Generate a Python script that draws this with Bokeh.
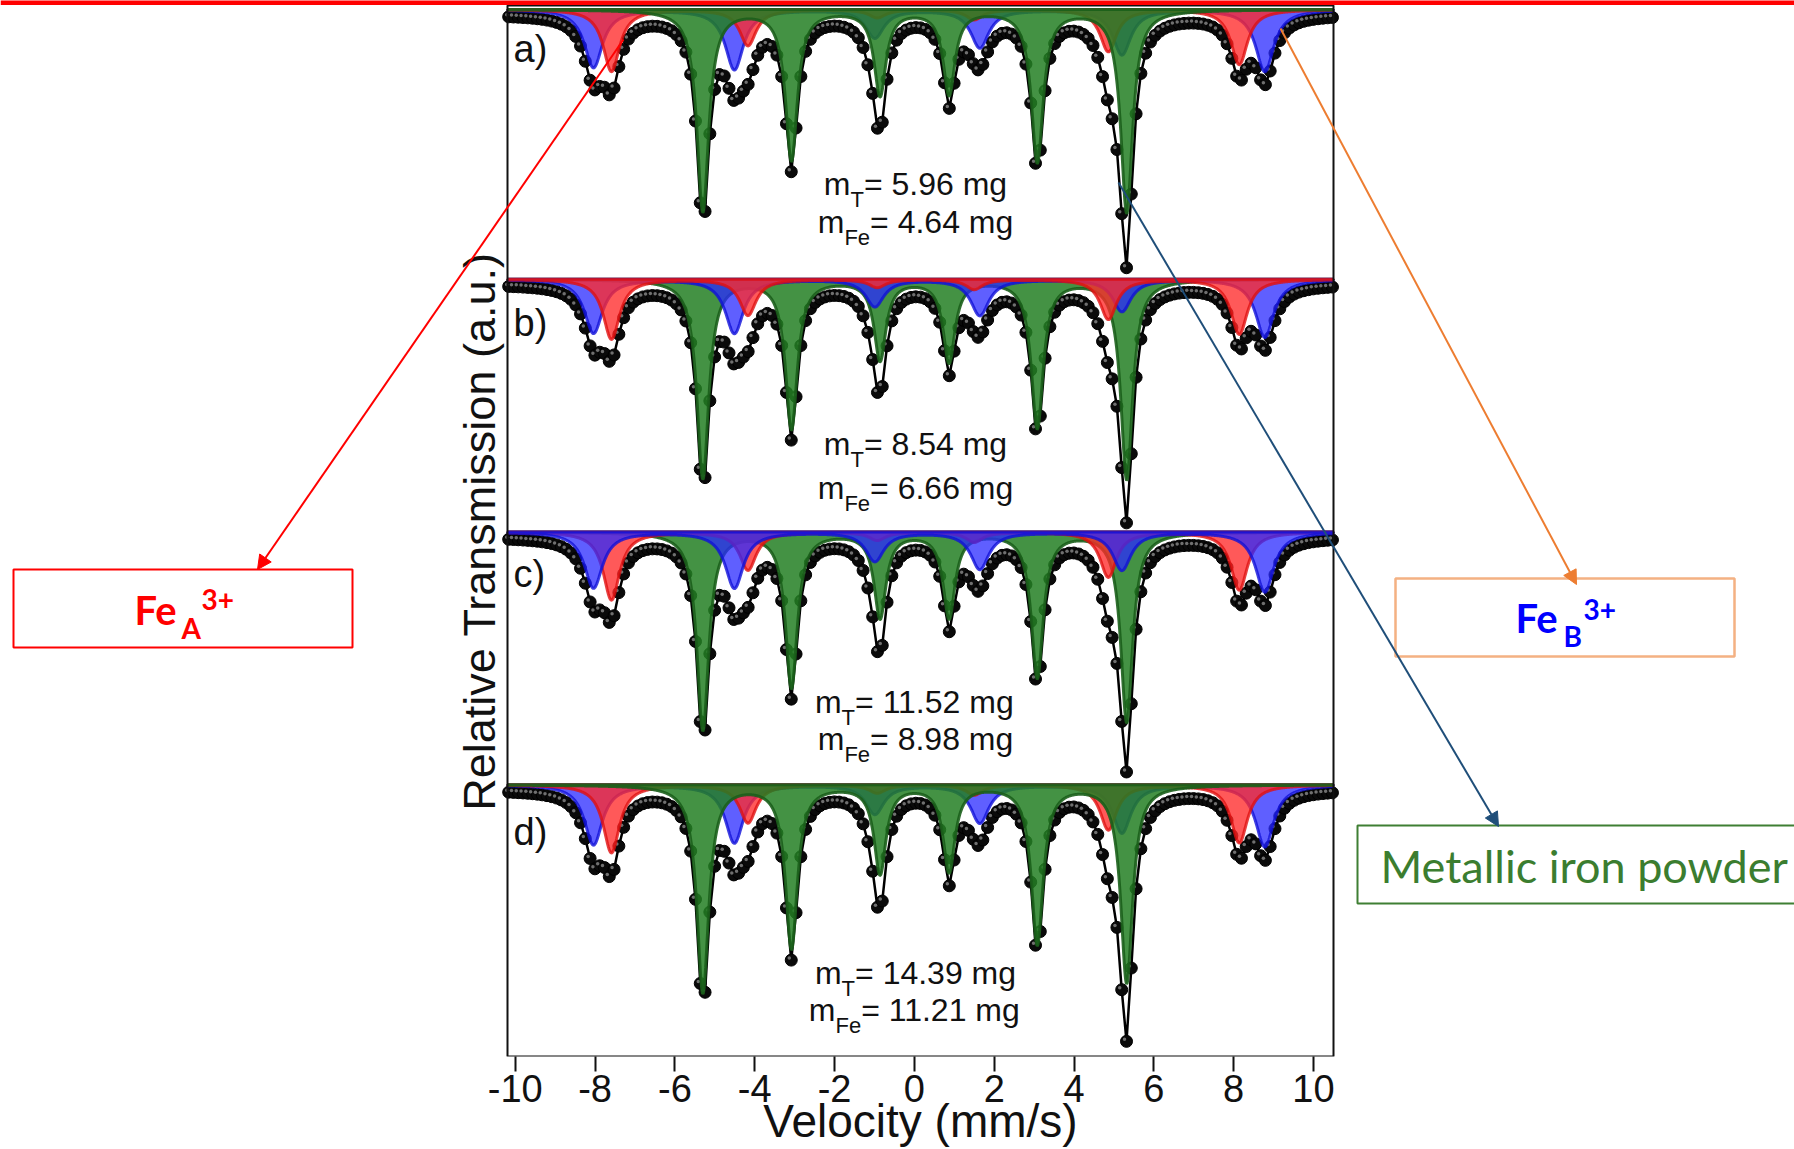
import numpy as np
from bokeh.plotting import figure
from bokeh.models import Range1d, FixedTicker, Label, Arrow, NormalHead, BoxAnnotation
from bokeh.embed import file_html
from bokeh.resources import INLINE

# ---- data -----------------------------------------------------------------
panel_tags = ["a)", "b)", "c)", "d)"]
mass_total = ["5.96", "8.54", "11.52", "14.39"]   # m_T (mg)
mass_fe = ["4.64", "6.66", "8.98", "11.21"]       # m_Fe (mg)

# line positions of the three sextets (mm/s)
pos_metal = [-5.30, -3.08, -0.86, 0.87, 3.08, 5.32]   # metallic iron
pos_feA = [-7.59, -4.17, -0.93, 1.50, 4.86, 8.14]     # Fe_A 3+
pos_feB = [-8.04, -4.51, -0.99, 1.64, 5.20, 8.78]     # Fe_B 3+

# full widths at half maximum (mm/s)
fwhm_metal = 0.36
fwhm_feA = 0.50
fwhm_feB = 0.55

# absorption depth of each line, one row per spectrum a) .. d) (a.u.)
depth_metal = [
    [202, 150, 85, 84, 152, 203],
    [199, 149, 80, 82, 148, 200],
    [198, 155, 85, 85, 145, 190],
    [208, 163, 88, 86, 159, 198],
]
depth_feA = [
    [62, 36, 8, 10, 42, 55],
    [60, 36, 8, 10, 40, 55],
    [68, 38, 8, 10, 45, 58],
    [68, 38, 8, 10, 45, 58],
]
depth_feB = [
    [58, 60, 28, 38, 45, 62],
    [54, 54, 27, 36, 32, 58],
    [56, 56, 29, 37, 38, 60],
    [60, 58, 29, 38, 48, 62],
]

# ---- layout ---------------------------------------------------------------
W, H = 1794, 1149
AXIS_Y = 1057                 # canvas row of the velocity axis
BOX_L, BOX_R, BOX_T = 507, 1333, 5
PX_PER_V, X_V0 = 39.91, 913.9  # velocity scale on the canvas

offsets = [1043, 773, 520, 267]          # vertical shift of each spectrum
band = 5                                 # sub-spectra sit slightly above the data baseline
fill_order = [["feB", "feA", "metal"], ["metal", "feB", "feA"],
              ["metal", "feA", "feB"], ["feB", "feA", "metal"]]
styles = {
    "metal": dict(fill_color="#237f23", fill_alpha=0.85, line_color="#1b5f1b", line_alpha=0.9),
    "feA": dict(fill_color="#ff2a2a", fill_alpha=0.78, line_color="#e01010", line_alpha=0.8),
    "feB": dict(fill_color="#2a2aff", fill_alpha=0.75, line_color="#1010d8", line_alpha=0.8),
}


def vel(X):
    return (X - X_V0) / PX_PER_V


def sx(X):
    return X


def sy(Y):
    return AXIS_Y - Y


def sextet(v, pos, depth, fwhm):
    hw = fwhm / 2.0
    out = np.zeros_like(v)
    for p0, d in zip(pos, depth):
        out += d / (1.0 + ((v - p0) / hw) ** 2)
    return out


p = figure(width=W, height=H, output_backend="svg", toolbar_location=None,
           x_range=Range1d(vel(0), vel(W)), y_range=Range1d(0, AXIS_Y),
           y_axis_location=None,
           min_border_left=0, min_border_right=0,
           min_border_top=0, min_border_bottom=H - AXIS_Y)
p.background_fill_color = "white"
p.border_fill_color = "white"
p.grid.visible = False
p.outline_line_color = None

v_lo, v_hi = vel(BOX_L) + 0.03, vel(BOX_R) - 0.02
v_data = np.arange(v_lo, v_hi, 0.12)        # velocity channels
v_fit = np.linspace(vel(BOX_L) + 0.01, vel(BOX_R) - 0.01, 1800)

for i in range(4):
    base = offsets[i]
    comps = {
        "metal": (pos_metal, depth_metal[i], fwhm_metal),
        "feA": (pos_feA, depth_feA[i], fwhm_feA),
        "feB": (pos_feB, depth_feB[i], fwhm_feB),
    }
    total = sum(sextet(v_data, *comps[k]) for k in comps)
    y = base - total
    p.line(v_data, y, line_color="black", line_width=2.5)
    p.scatter(v_data, y, size=12, fill_color="#0a0a0a", line_color="black", line_width=1)
    p.scatter(v_data - 0.05, y + 2, size=3.5, fill_color="#8a8a8a", line_color=None, fill_alpha=0.8)
    for k in fill_order[i]:
        prof = sextet(v_fit, *comps[k])
        top = base + band
        xs = np.concatenate([v_fit, v_fit[::-1]])
        ys = np.concatenate([top - prof, np.full_like(v_fit, top)])
        p.patch(xs, ys, line_width=3, **styles[k])

# plot box
p.add_layout(BoxAnnotation(left=vel(BOX_L), right=vel(BOX_R), bottom=0, top=AXIS_Y - BOX_T,
                           fill_alpha=0, line_color="#111111", line_alpha=1, line_width=2))

# ---- velocity axis --------------------------------------------------------
ticks = list(range(-10, 11, 2))
p.xaxis.ticker = FixedTicker(ticks=ticks)
p.xaxis.major_label_overrides = {t: str(t) for t in ticks}
p.xaxis.axis_line_color = None
p.xaxis.major_tick_out = 15
p.xaxis.major_tick_in = 0
p.xaxis.minor_tick_out = 0
p.xaxis.minor_tick_in = 0
p.xaxis.major_tick_line_width = 2
p.xaxis.major_tick_line_color = "#111111"
p.xaxis.major_label_text_font = "Liberation Sans"
p.xaxis.major_label_text_font_size = "38px"
p.xaxis.major_label_text_color = "#111111"
p.xaxis.major_label_standoff = 3
p.xaxis.axis_label = "\u2003Velocity (mm/s)"
p.xaxis.axis_label_text_font = "Liberation Sans"
p.xaxis.axis_label_text_font_size = "46px"
p.xaxis.axis_label_text_font_style = "normal"
p.xaxis.axis_label_text_color = "#111111"
p.xaxis.axis_label_standoff = -10


def add_text(X, Y, text, size, color="#111111", font="Liberation Sans", style="normal",
             align="left", angle=0.0):
    p.add_layout(Label(x=sx(X), y=sy(Y), x_units="screen", y_units="screen", text=text,
                       text_font=font, text_font_size=f"{size}px", text_color=color,
                       text_font_style=style, text_baseline="middle", text_align=align,
                       angle=angle))


# transmission label along the left edge of the box
add_text(479, 532, "Relative Transmission (a.u.)", 45, align="center", angle=np.pi / 2)

# ---- panel tags and sample masses -----------------------------------------
ARIAL = {"m": .833, "=": .584, " ": .278, ".": .278, "g": .556, "T": .611,
         "F": .611, "e": .556}


def text_w(s, size):
    return sum(ARIAL.get(ch, .556) for ch in s) * size


tag_mid = [49, 323, 574, 832]
mass_mid = [(184, 222), (444, 488), (702, 739), (973, 1010)]
MAIN, SUB, CX = 32, 22, 915

for i in range(4):
    add_text(513, tag_mid[i], panel_tags[i], 38)
    for sub, val, by in (("T", mass_total[i], mass_mid[i][0]),
                         ("Fe", mass_fe[i], mass_mid[i][1])):
        rest = f"= {val} mg"
        w = text_w("m", MAIN) + text_w(sub, SUB) + text_w(rest, MAIN)
        x0 = CX - w / 2
        add_text(x0, by, "m", MAIN)
        x1 = x0 + text_w("m", MAIN)
        add_text(x1, by + 16, sub, SUB)
        add_text(x1 + text_w(sub, SUB), by, rest, MAIN)

# ---- callouts -------------------------------------------------------------
def add_box(l, r, t, b, color, width):
    p.add_layout(BoxAnnotation(left=sx(l), right=sx(r), top=sy(t), bottom=sy(b),
                               left_units="screen", right_units="screen",
                               top_units="screen", bottom_units="screen",
                               fill_alpha=0, line_color=color, line_alpha=1,
                               line_width=width))


def add_arrow(x0, y0, x1, y1, color):
    p.add_layout(Arrow(x_start=sx(x0), y_start=sy(y0), x_end=sx(x1), y_end=sy(y1),
                       start_units="screen", end_units="screen",
                       line_color=color, line_width=2,
                       end=NormalHead(size=14, fill_color=color, line_color=color)))


# red rule along the top edge
p.add_layout(BoxAnnotation(left=sx(0), right=sx(W), top=sy(0), bottom=sy(5.5),
                           left_units="screen", right_units="screen",
                           top_units="screen", bottom_units="screen",
                           fill_color="#ff0000", fill_alpha=1, line_color=None))

add_box(13, 352, 570, 648, "#ff0000", 2)
add_text(134, 610, "Fe", 40, "#ff0000", "Lato", "bold")
add_text(181, 628, "A", 28, "#ff0000", "Lato", "bold")
add_text(201, 600, "3+", 28, "#ff0000", "Lato", "bold")

add_box(1395, 1734, 579, 657, "#f4b183", 2.5)
add_text(1515, 618, "Fe", 40, "#0000ff", "Lato", "bold")
add_text(1563, 636, "B", 28, "#0000ff", "Lato", "bold")
add_text(1583, 610, "3+", 28, "#0000ff", "Lato", "bold")

add_box(1357, 1820, 826, 904, "#3f7f33", 2)
add_text(1380, 866, "Metallic iron powder", 45, "#3b7d2f", "Lato")

add_arrow(623, 40, 257, 570, "#ff0000")
add_arrow(1280, 29, 1576, 585, "#ed7d31")
add_arrow(1118, 183, 1498, 827, "#1f4e79")

open("out.html", "w").write(file_html(p, INLINE))
